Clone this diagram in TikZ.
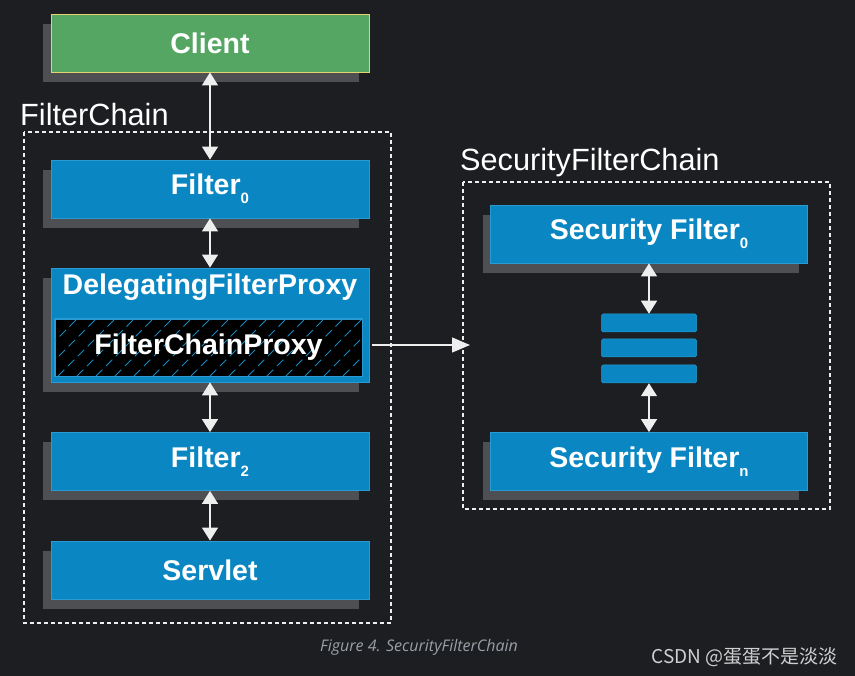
\documentclass[tikz,border=0pt]{standalone}
\usepackage{fontspec}
\setmainfont{Liberation Sans}
\newfontfamily\capfont{Open Sans}
\newfontfamily\cjkfont{Noto Sans CJK SC}
\usetikzlibrary{arrows.meta}
\definecolor{bgc}{HTML}{1C1E22}
\definecolor{shadowc}{HTML}{4E4F52}
\definecolor{bluec}{HTML}{0A87C2}
\definecolor{blueb}{HTML}{2A9BD2}
\definecolor{greenc}{HTML}{55A662}
\definecolor{yellowb}{HTML}{E6D36E}
\definecolor{linec}{HTML}{EEEEEE}
\definecolor{capc}{HTML}{9AA0A8}
\definecolor{wmc}{HTML}{D0D0D0}
\definecolor{hatchc}{HTML}{1A8AC0}
\newcommand{\sbx}[1]{\raisebox{-9pt}{\fontsize{15}{15}\selectfont\bfseries #1}}
\begin{document}
\begin{tikzpicture}[x=1pt,y=-1pt,
  boxfont/.style={font=\fontsize{28.5}{30}\selectfont\bfseries, text=white},
  bluebox/.style={boxfont, fill=bluec, draw=blueb, line width=0.8pt, minimum width=318pt, minimum height=58pt, inner sep=0pt},
  greenbox/.style={boxfont, fill=greenc, draw=yellowb, line width=0.9pt, minimum width=318pt, minimum height=58pt, inner sep=0pt},
  shadowbox/.style={fill=shadowc, draw=none, minimum width=316pt, minimum height=58pt, inner sep=0pt},
  barbox/.style={fill=bluec, draw=blueb, line width=0.5pt, rounded corners=1.5pt, minimum width=95pt, minimum height=18pt, inner sep=0pt},
  dashbox/.style={draw=linec, line width=1.3pt, dash pattern=on 4pt off 3pt},
  dbl/.style={linec, line width=1.3pt, {Triangle[width=16pt,length=13pt]}-{Triangle[width=16pt,length=13pt]}},
  arr/.style={linec, line width=1.3pt, -{Triangle[width=15pt,length=18pt]}},
  title/.style={font=\fontsize{30.7}{32}\selectfont, text=white, inner sep=0pt}
]
\fill[bgc] (0,0) rectangle (855,676);
\useasboundingbox (0,0) rectangle (855,676);

% dashed containers
\draw[dashbox] (24,132) rectangle (391,623);
\draw[dashbox] (463,182) rectangle (830,509);
\node[title, anchor=base west] (fctitle) at (20,126) {FilterChain};
\node[title, anchor=base west] (sfctitle) at (460,171) {SecurityFilterChain};

% shadows
\node[shadowbox] (s1) at (201,53) {};
\node[shadowbox] (s2) at (201,199) {};
\node[shadowbox, minimum height=114pt] (s3) at (201,335) {};
\node[shadowbox] (s4) at (201,471.5) {};
\node[shadowbox] (s5) at (201,580) {};
\node[shadowbox] (s6) at (640.5,244) {};
\node[shadowbox] (s7) at (640.5,471.5) {};

% left boxes
\node[greenbox] (client) at (210,43) {Client};
\node[bluebox] (f0) at (210,189) {Filter\sbx{0}};
\node[bluebox, minimum height=114pt] (dfp) at (210,325) {};
\node[boxfont, inner sep=0pt] (dfpt) at (210,287) {DelegatingFilterProxy};
\node[fill=black, draw=blueb, line width=0.8pt, minimum width=307pt, minimum height=57pt, inner sep=0pt] (fcp) at (208.5,347.5) {};
\begin{scope}
  \clip (fcp.south west) rectangle (fcp.north east);
  \foreach \xx in {20,39,...,400} {
    \draw[hatchc, line width=0.8pt, dash pattern=on 9pt off 5pt] (\xx,376) -- ++(57,-57);
  }
\end{scope}
\draw[blueb, line width=0.8pt] (fcp.south west) rectangle (fcp.north east);
\node[boxfont, inner sep=0pt] (fcpt) at (fcp.center) {FilterChainProxy};
\node[bluebox] (f2) at (210,461.5) {Filter\sbx{2}};
\node[bluebox] (servlet) at (210,570) {Servlet};

% right boxes
\node[bluebox, minimum width=317pt] (sf0) at (649,234) {Security Filter\sbx{0}};
\node[barbox] (b1) at (649,323) {};
\node[barbox] (b2) at (649,348) {};
\node[barbox] (b3) at (649,374) {};
\node[bluebox, minimum width=317pt] (sfn) at (649,461.5) {Security Filter\sbx{n}};

% connectors
\draw[dbl] (client.south) -- (f0.north);
\draw[dbl] (f0.south) -- (dfp.north);
\draw[dbl] (dfp.south) -- (f2.north);
\draw[dbl] (f2.south) -- (servlet.north);
\draw[dbl] (sf0.south) -- (b1.north);
\draw[dbl] (b3.south) -- (sfn.north);
\coordinate (sfcin) at (470,345);
\draw[arr] ([xshift=3pt]dfp.east |- sfcin) -- (sfcin);

% caption and watermark
\node[font=\capfont\itshape\fontsize{16}{18}\selectfont, text=capc, anchor=base, inner sep=0pt] (cap) at (419,651) {Figure 4. SecurityFilterChain};
\node[font=\cjkfont\fontsize{19}{21}\selectfont, text=wmc, anchor=base east, inner sep=0pt] (wm) at (838,663) {CSDN @蛋蛋不是淡淡};
\end{tikzpicture}
\end{document}
